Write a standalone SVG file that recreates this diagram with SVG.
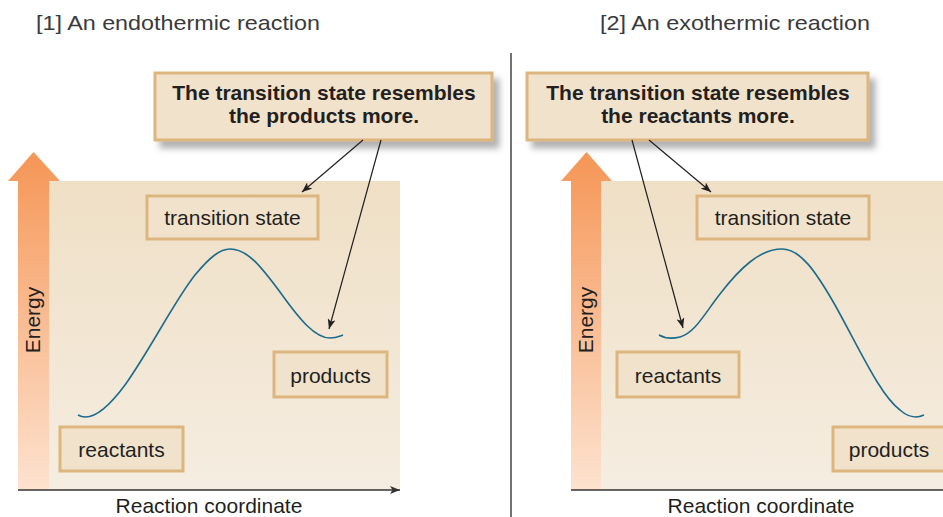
<svg xmlns="http://www.w3.org/2000/svg" width="943" height="517" viewBox="0 0 943 517">
<defs>
<style>
.t{font-family:"Liberation Sans",Arial,sans-serif;font-size:21px;fill:#231f20;text-anchor:middle}
.b{font-weight:bold}
.title{font-family:"Liberation Sans",Arial,sans-serif;font-size:21px;fill:#3a3a3a}
.box{fill:#f1e2cc;stroke:#ddb57f;stroke-width:3}
.curve{fill:none;stroke:#1b6b8c;stroke-width:1.6}
.conn{stroke:#231f20;stroke-width:1.2;fill:none;marker-end:url(#ah)}
.axis{stroke:#333;stroke-width:1.5;fill:none}
</style>
<marker id="ah" viewBox="0 0 10 8" refX="10" refY="4" markerWidth="10" markerHeight="8" markerUnits="userSpaceOnUse" orient="auto">
<path d="M0,0 L10,4 L0,8 L2.5,4 Z" fill="#231f20"/>
</marker>
<marker id="axh" viewBox="0 0 10 8" refX="10" refY="4" markerWidth="10" markerHeight="8" markerUnits="userSpaceOnUse" orient="auto">
<path d="M0,0 L10,4 L0,8 L2.5,4 Z" fill="#333"/>
</marker>
<linearGradient id="bg" x1="0" y1="0" x2="0" y2="1">
<stop offset="0" stop-color="#efdfc5"/>
<stop offset="1" stop-color="#f5ede1"/>
</linearGradient>
<linearGradient id="og" x1="0" y1="0" x2="0" y2="1">
<stop offset="0" stop-color="#f59656"/>
<stop offset="1" stop-color="#fde2cf"/>
</linearGradient>
<filter id="sh" x="-10%" y="-20%" width="130%" height="160%">
<feDropShadow dx="6" dy="7" stdDeviation="3" flood-color="#555" flood-opacity="0.45"/>
</filter>
</defs>

<g id="titles">
<text class="title" x="36" y="30" textLength="284" lengthAdjust="spacingAndGlyphs">[1] An endothermic reaction</text>
<text class="title" x="600" y="30" textLength="270" lengthAdjust="spacingAndGlyphs">[2] An exothermic reaction</text>
</g>

<line x1="511" y1="53" x2="511" y2="517" stroke="#444" stroke-width="1.5"/>

<!-- Left panel -->
<g id="left-chart">
<rect x="49" y="181" width="351" height="309" fill="url(#bg)"/>
<path d="M18,490 L18,181 L8,181 L33.5,152 L60,181 L49,181 L49,490 Z" fill="url(#og)"/>
<text class="t" transform="translate(40,320) rotate(-90)">Energy</text>
<path class="axis" d="M18,490 L400,490" marker-end="url(#axh)"/>
<text class="t" x="209" y="513">Reaction coordinate</text>
<path class="curve" d="M78,415 C90,422 105,412 125,385 C150,350 175,300 195,275 C210,257 220,249 230,249 C248,249 262,268 280,292 C300,320 315,338 330,338 C336,338 340,336 343,335"/>
</g>

<g id="left-callout">
<rect class="box" x="155" y="73" width="337" height="67" filter="url(#sh)"/>
<text class="t b" x="324" y="100">The transition state resembles</text>
<text class="t b" x="324" y="123">the products more.</text>
</g>
<g id="left-ts">
<rect class="box" x="147" y="196" width="171" height="43"/>
<text class="t" x="232.5" y="225">transition state</text>
</g>
<g id="left-reactants">
<rect class="box" x="60" y="427" width="123" height="44"/>
<text class="t" x="121.5" y="457">reactants</text>
</g>
<g id="left-products">
<rect class="box" x="274" y="352" width="113" height="45"/>
<text class="t" x="330.5" y="383">products</text>
</g>

<!-- Right panel -->
<g id="right-chart">
<rect x="601" y="181" width="342" height="309" fill="url(#bg)"/>
<path d="M571,490 L571,181 L561,181 L586.5,152 L612,181 L601,181 L601,490 Z" fill="url(#og)"/>
<text class="t" transform="translate(592.5,320) rotate(-90)">Energy</text>
<path class="axis" d="M571,490 L943,490"/>
<text class="t" x="761" y="513">Reaction coordinate</text>
<path class="curve" d="M659,335 C666,339 672,339 680,337 C695,333 705,313 720,294 C740,268 760,249 782,249 C800,249 815,270 835,305 C860,350 880,395 900,410 C908,417 915,419 924,415"/>
</g>

<g id="right-callout">
<rect class="box" x="527" y="73" width="341" height="67" filter="url(#sh)"/>
<text class="t b" x="698" y="100">The transition state resembles</text>
<text class="t b" x="698" y="123">the reactants more.</text>
</g>
<g id="right-ts">
<rect class="box" x="697" y="196" width="172" height="43"/>
<text class="t" x="783" y="225">transition state</text>
</g>
<g id="right-reactants">
<rect class="box" x="617" y="352" width="122" height="45"/>
<text class="t" x="678" y="383">reactants</text>
</g>
<g id="right-products">
<rect class="box" x="833" y="427" width="113" height="44"/>
<text class="t" x="889" y="457">products</text>
</g>

<g id="connectors">
<line class="conn" x1="363" y1="140" x2="302" y2="192"/>
<line class="conn" x1="381" y1="140" x2="329" y2="329"/>
<line class="conn" x1="649" y1="140" x2="711" y2="192"/>
<line class="conn" x1="632" y1="140" x2="683" y2="328"/>
</g>
</svg>
